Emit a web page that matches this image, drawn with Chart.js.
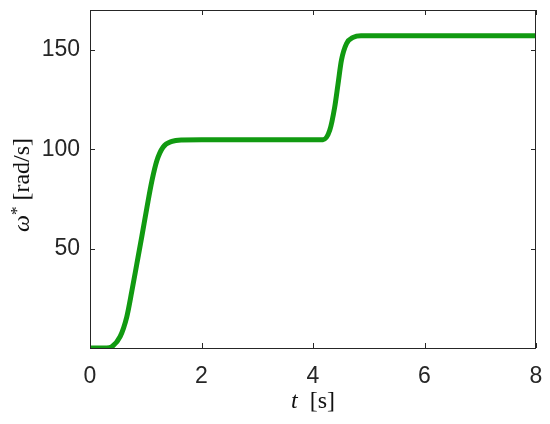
<!DOCTYPE html>
<html lang="en">

<head>
    <meta charset="UTF-8" />
    <title>Speed reference</title>
    <script src="https://cdn.jsdelivr.net/npm/chart.js"></script>
    <style>
        html, body { margin: 0; padding: 0; background: #fff; }
        #box { width: 550px; height: 424px; }
    </style>
</head>

<body>
    <div id="box"><canvas id="grafico"></canvas></div>

    <script>
        // time [s] and speed reference [rad/s]
        const tempo = [0, 0.3, 0.39, 0.54, 0.66, 0.75, 0.84, 0.93, 1.02, 1.11, 1.20, 1.31, 1.47, 1.65, 2.0,
            4.18, 4.30, 4.39, 4.45, 4.51, 4.60, 4.72, 4.86, 8];
        const omega = [0, 0, 0.6, 5.7, 15.7, 28.5, 42.3, 56.2, 70.5, 84, 94.3, 101, 103.9, 104.6, 104.7,
            104.8, 109.5, 121.3, 133, 144.7, 153, 156.2, 157.1, 157.1];
        const xTicks = [0, 2, 4, 6, 8];
        const yTicks = [50, 100, 150];

        const corTexto = '#262626';
        const fonteTicks = { family: 'Liberation Sans', size: 23 };

        // box, inward ticks and the LaTeX-like axis labels
        const moldura = {
            id: 'moldura',
            afterDraw(chart) {
                const c = chart.ctx;
                const a = chart.chartArea;
                const sx = chart.scales.x, sy = chart.scales.y;
                c.save();
                c.strokeStyle = '#262626';
                c.lineWidth = 1;
                c.strokeRect(a.left + 0.5, a.top + 0.5, a.right - a.left - 1, a.bottom - a.top);
                c.beginPath();
                xTicks.forEach(v => {
                    const px = Math.round(sx.getPixelForValue(v)) + 0.5;
                    c.moveTo(px, a.bottom); c.lineTo(px, a.bottom - 5);
                    c.moveTo(px, a.top); c.lineTo(px, a.top + 5);
                });
                yTicks.forEach(v => {
                    const py = Math.round(sy.getPixelForValue(v)) + 0.5;
                    c.moveTo(a.left, py); c.lineTo(a.left + 5, py);
                    c.moveTo(a.right, py); c.lineTo(a.right - 5, py);
                });
                c.stroke();

                c.fillStyle = '#111';
                c.textBaseline = 'alphabetic';
                const ital = 'italic 24px "Liberation Serif"';
                const reg = '24px "Liberation Serif"';
                const sup = '17px "Liberation Serif"';

                function escreve(partes, cx, cy) {
                    let total = 0;
                    partes.forEach(p => { c.font = p[1]; total += c.measureText(p[0]).width; });
                    let x = cx - total / 2;
                    partes.forEach(p => {
                        c.font = p[1];
                        c.fillText(p[0], x, cy + (p[2] || 0));
                        x += c.measureText(p[0]).width;
                    });
                }

                // x label
                const xc = (a.left + a.right) / 2;
                escreve([['t', ital], ['  [s]', reg]], xc, 408);

                // y label, rotated
                c.translate(29, (a.top + a.bottom) / 2 + 6);
                c.rotate(-Math.PI / 2);
                escreve([['ω', ital], ['*', sup, -7], [' [rad/s]', reg]], 0, 0);
                c.restore();
            }
        };

        const ctx = document.getElementById('grafico').getContext('2d');
        new Chart(ctx, {
            type: 'line',
            data: {
                datasets: [{
                    data: tempo.map((t, i) => ({ x: t, y: omega[i] })),
                    borderColor: '#119a11',
                    borderWidth: 5,
                    pointRadius: 0,
                    cubicInterpolationMode: 'monotone',
                    fill: false
                }]
            },
            options: {
                responsive: true,
                maintainAspectRatio: false,
                animation: false,
                layout: { padding: { top: 10, right: 14, left: 0, bottom: 0 } },
                plugins: { legend: { display: false }, tooltip: { enabled: false } },
                scales: {
                    x: {
                        type: 'linear',
                        min: 0,
                        max: 8,
                        afterBuildTicks: s => { s.ticks = xTicks.map(v => ({ value: v })); },
                        afterFit: s => { s.height = 76; s.paddingLeft = 0; s.paddingRight = 0; },
                        grid: { display: false, drawTicks: false },
                        border: { display: false },
                        ticks: { color: corTexto, font: fonteTicks, padding: 15, maxRotation: 0 }
                    },
                    y: {
                        min: 0,
                        max: 170,
                        afterBuildTicks: s => { s.ticks = yTicks.map(v => ({ value: v })); },
                        afterFit: s => { s.width = 90; s.paddingTop = 0; s.paddingBottom = 0; },
                        grid: { display: false, drawTicks: false },
                        border: { display: false },
                        ticks: { color: corTexto, font: fonteTicks, padding: 10 }
                    }
                }
            },
            plugins: [moldura]
        });
    </script>
</body>

</html>
